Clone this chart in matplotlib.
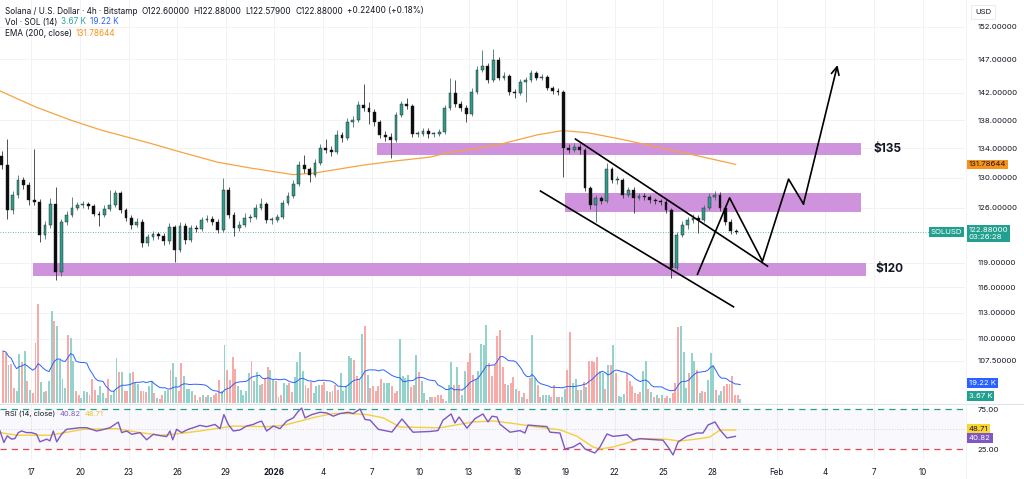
import numpy as np
import pandas as pd
import matplotlib
matplotlib.use("Agg")
import matplotlib.pyplot as plt
from matplotlib.ticker import FixedLocator, NullLocator, FixedFormatter

plt.rcParams['font.family'] = ['Inter', 'DejaVu Sans']

# ---- data (days counted from 1 Jan 2026 00:00) ----
# 8h candles, first one opens Dec 14
first_open = 133.0
closes = [131.7, 125.7, 127.7, 129.7, 129.0, 127.0, 126.8, 122.5, 123.8, 126.5,
          117.9, 124.2, 125.1, 126.0, 126.4, 126.5, 126.2, 125.2, 125.1, 125.9,
          126.4, 127.9, 125.7, 124.7, 123.8, 124.2, 121.5, 122.2, 122.6, 122.4,
          121.7, 123.5, 120.6, 123.7, 121.9, 123.4, 123.3, 124.4, 124.6, 124.2,
          123.1, 128.4, 125.1, 123.4, 123.8, 124.7, 124.8, 126.0, 126.5, 124.4,
          124.4, 124.8, 126.6, 127.6, 129.2, 131.7, 131.1, 130.4, 132.0, 134.1,
          133.8, 133.5, 135.9, 135.5, 137.7, 138.0, 140.2, 139.8, 139.2, 137.7,
          135.9, 135.6, 135.2, 138.7, 140.3, 140.0, 136.0, 136.0, 136.5, 136.0,
          136.0, 136.3, 139.8, 141.9, 140.3, 139.8, 138.9, 142.1, 145.4, 146.0,
          143.9, 146.9, 144.2, 144.5, 142.1, 141.9, 143.6, 143.9, 144.9, 144.2,
          144.3, 142.7, 142.2, 142.1, 134.1, 133.8, 134.2, 133.8, 128.6, 126.4,
          127.3, 126.9, 131.1, 129.7, 129.7, 127.7, 128.4, 127.3, 127.6, 127.4,
          127.0, 126.9, 126.8, 125.7, 118.4, 122.5, 123.8, 124.4, 124.7, 124.4,
          126.0, 127.4, 127.7, 126.0, 124.2, 123.0, 122.88]
highs = [133.6, 135.3, 128.2, 130.3, 130.1, 129.4, 133.9, 127.2, 124.3, 127.3,
         128.8, 124.6, 125.6, 127.4, 126.8, 126.9, 126.8, 126.5, 125.6, 126.3,
         128.4, 128.4, 128.2, 126.0, 125.0, 124.7, 124.5, 122.6, 123.0, 122.9,
         122.7, 124.0, 123.8, 124.1, 124.0, 123.8, 123.8, 124.8, 125.0, 124.9,
         124.5, 130.0, 128.8, 125.4, 124.3, 125.3, 125.2, 126.5, 127.3, 126.8,
         124.8, 125.2, 127.0, 128.1, 129.7, 132.3, 133.1, 131.5, 132.5, 134.6,
         135.3, 134.3, 136.6, 136.3, 138.3, 138.6, 140.8, 143.3, 140.6, 139.6,
         138.0, 136.4, 136.2, 139.1, 140.8, 141.2, 140.3, 136.5, 136.9, 136.8,
         136.3, 136.7, 140.2, 144.2, 143.9, 140.7, 140.2, 142.6, 145.9, 148.4,
         146.4, 148.6, 147.3, 145.0, 144.8, 142.5, 144.0, 144.3, 145.4, 145.2,
         144.7, 144.6, 143.0, 142.6, 142.4, 134.6, 134.7, 134.6, 134.1, 128.9,
         127.7, 127.6, 132.0, 131.5, 130.2, 130.0, 128.8, 128.7, 128.0, 127.9,
         127.7, 127.3, 127.2, 127.1, 126.0, 122.9, 124.3, 124.8, 125.2, 125.1,
         126.4, 127.9, 128.2, 128.1, 126.3, 124.5, 123.3]
lows = [131.2, 124.6, 125.2, 127.3, 128.5, 126.4, 126.3, 121.6, 122.0, 123.4,
        116.9, 117.4, 123.8, 124.8, 125.7, 126.0, 125.8, 124.9, 123.6, 124.8,
        125.6, 126.1, 125.3, 124.3, 123.3, 123.5, 121.0, 121.1, 121.9, 122.0,
        121.2, 121.4, 119.1, 120.3, 121.3, 121.6, 122.9, 123.0, 124.1, 123.8,
        122.7, 122.9, 124.7, 122.4, 123.0, 123.5, 124.2, 124.5, 125.7, 124.0,
        123.9, 124.1, 124.5, 126.3, 127.3, 128.9, 130.6, 129.4, 130.1, 131.7,
        133.3, 133.0, 133.2, 134.9, 135.2, 137.0, 137.7, 139.3, 137.4, 137.2,
        135.5, 135.0, 132.7, 134.9, 138.4, 139.6, 135.6, 135.6, 135.7, 135.4,
        135.6, 135.7, 136.0, 139.5, 139.9, 139.3, 137.7, 138.6, 141.8, 145.0,
        143.4, 143.6, 143.8, 143.8, 141.7, 141.2, 141.6, 140.6, 143.6, 143.8,
        143.9, 142.3, 141.8, 141.7, 130.1, 133.4, 133.5, 133.2, 128.2, 125.9,
        124.2, 126.5, 126.6, 129.3, 129.2, 127.3, 127.4, 125.3, 127.0, 127.0,
        126.6, 126.5, 126.4, 125.3, 117.2, 118.1, 122.2, 123.3, 124.0, 122.8,
        124.1, 125.7, 127.0, 125.6, 123.8, 122.6, 122.58]

# 4h volume, thousand SOL; g = up candle, r = down candle
volumes = [52, 50, 38, 39, 15, 12, 49, 41, 52, 22, 13, 10, 60, 99, 21, 11, 12, 22, 92, 82,
           77, 43, 24, 15, 68, 65, 42, 12, 8, 5, 12, 11, 8, 24, 13, 8, 17, 10, 5, 24,
           8, 12, 45, 31, 31, 12, 12, 30, 31, 20, 19, 12, 12, 11, 17, 22, 10, 5, 4, 8,
           12, 13, 33, 40, 26, 12, 40, 27, 14, 14, 12, 8, 3, 6, 8, 6, 8, 6, 8, 10,
           23, 12, 58, 33, 23, 46, 34, 17, 13, 8, 12, 30, 42, 22, 31, 18, 19, 25, 36, 33,
           23, 22, 6, 8, 20, 18, 20, 11, 26, 41, 51, 32, 18, 15, 21, 10, 17, 18, 18, 21,
           12, 11, 12, 18, 13, 30, 12, 17, 47, 45, 43, 27, 23, 69, 77, 28, 15,
           17, 12, 17, 24, 20, 20, 20, 17, 10, 12, 64, 27, 25, 28, 16, 18, 48, 31, 22, 10,
           3, 6, 6, 6, 8, 8, 4, 2, 18, 41, 18, 36, 18, 8, 32, 41, 50, 28, 24, 32,
           59, 58, 78, 40, 27, 38, 67, 73, 36, 19, 18, 20, 26, 14, 12, 6, 10, 4, 25, 68,
           25, 18, 6, 8, 8, 8, 6, 18, 6, 6, 6, 14, 33, 71, 20, 24, 13, 13, 21, 16,
           42, 42, 41, 46, 32, 30, 14, 38, 38, 58, 30, 7, 6, 9, 30, 22, 17, 10, 9, 11,
           32, 42, 14, 11, 6, 8, 5, 8, 5, 7, 5, 10, 20, 76, 77, 51, 15, 30, 50, 42,
           33, 10, 12, 11, 23, 50, 38, 13, 8, 12, 17, 19, 19, 27, 8, 8, 3.67]
vol_dirs = ("rrgrrggrgr" "grrrggrggr" "ggggrggrrg" "ggrrrggggr" "gggrgrrgrg"
            "grrrggrgrr" "ggrggrrggg" "grgrgrggrr" "rggrrrrggg" "ggrgggrrrg"
            "grgrggrrgg" "ggrrrgggrr" "grgrrggggg" "rrrgrgr"
            "rrrrgggrrr" "ggggrrgrgg" "rgrrrrrggg" "rgrggrrrgg" "gggrrrrrrr"
            "grrgrgrrrg" "grrgggrrgr" "ggrrggrgrg" "rrrrggrgrg" "rgggrrrrrr"
            "ggrgrgrgrr" "grrrgggrgg" "rgrrgggrgg" "rrrrrrg")

ema_days = [-16.91, -14.75, -12.59, -10.74, -7.65, -5.80, -3.52, -1.48, 1.17, 2.41, 5.49,
            7.59, 9.63, 10.68, 12.72, 14.14, 16.23, 17.78, 19.32, 21.36, 22.59, 25.86, 28.46]
ema_vals = [142.2, 139.9, 138.0, 136.6, 134.7, 133.5, 132.1, 131.3, 130.4, 130.6, 131.7,
            132.3, 132.8, 133.4, 134.1, 134.7, 135.9, 136.5, 136.2, 135.3, 134.7, 133.1, 131.8]

rsi_days = [-16.94, -16.70, -16.49, -16.22, -16.02, -15.81, -15.60, -15.30, -14.99, -14.68,
            -14.48, -14.06, -13.86, -13.65, -13.44, -13.14, -12.83, -12.01, -11.59, -10.98,
            -10.67, -10.15, -9.85, -9.64, -9.43, -9.12, -8.81, -8.30, -7.89, -7.48,
            -6.96, -6.65, -6.45, -6.28, -6.04, -5.73, -5.32, -5.01, -4.60, -4.19,
            -3.67, -3.36, -3.12, -2.85, -2.54, -2.13, -1.72, -1.31, -1.00, -0.79,
            -0.48, -0.07, 0.34, 0.75, 1.16, 1.47, 1.68, 1.88, 2.30, 2.81,
            3.22, 3.63, 4.04, 4.56, 4.86, 5.28, 5.59, 5.90, 6.41, 7.25,
            7.87, 8.18, 8.55, 9.60, 10.09, 10.40, 10.90, 11.14, 11.39, 11.88,
            12.38, 12.87, 13.18, 13.43, 13.73, 13.92, 14.54, 15.15, 15.46, 15.65,
            16.20, 16.82, 17.01, 17.62, 17.93, 18.43, 18.86, 19.17, 19.78, 20.09,
            20.52, 20.89, 21.33, 21.76, 22.13, 22.56, 23.18, 23.98, 24.29, 24.60,
            24.91, 25.46, 26.08, 26.45, 26.76, 27.19, 27.50, 27.93, 28.24, 28.45]
rsi_vals = [47.5, 33.2, 41.4, 37.3, 38.1, 45.5, 47.5, 45.5, 45.5, 43.4,
            34.0, 37.3, 35.2, 47.5, 34.0, 43.4, 49.6, 51.6, 51.6, 47.5,
            48.8, 51.6, 55.7, 58.6, 45.5, 47.5, 43.4, 45.5, 36.5, 43.4,
            41.4, 40.6, 47.5, 36.5, 49.6, 45.5, 49.6, 51.6, 54.5, 52.9,
            55.7, 50.4, 68.0, 55.7, 47.5, 48.8, 53.7, 55.7, 58.6, 59.8,
            47.5, 53.7, 50.4, 59.8, 63.9, 72.1, 76.2, 63.9, 68.0, 70.9,
            70.1, 66.0, 69.3, 70.9, 69.3, 75.0, 61.9, 61.1, 49.6, 46.2,
            62.5, 55.0, 46.0, 46.9, 48.0, 61.0, 68.8, 57.5, 65.0, 51.0,
            63.0, 68.8, 58.8, 66.0, 65.0, 56.0, 46.0, 48.0, 45.0, 55.0,
            54.0, 53.0, 46.0, 45.0, 25.0, 27.5, 32.5, 25.0, 20.0, 27.5,
            43.8, 40.8, 41.7, 42.9, 36.0, 38.0, 37.0, 36.0, 27.5, 17.5,
            33.8, 41.0, 45.0, 45.0, 55.0, 58.8, 48.8, 38.8, 40.0, 40.82]
rsi_ma_days = [-16.94, -15.91, -13.86, -11.80, -9.74, -8.30, -7.07, -6.25, -4.60, -2.54,
               -0.48, 0.54, 1.57, 2.60, 3.63, 4.66, 5.69, 6.72, 7.75, 10.22,
               12.25, 13.49, 14.72, 16.20, 17.62, 18.67, 19.66, 20.09, 20.89, 21.76,
               22.56, 23.36, 24.23, 25.03, 26.27, 26.88, 27.50, 28.45]
rsi_ma_vals = [45.5, 42.2, 42.2, 49.6, 50.4, 45.5, 42.2, 43.4, 47.5, 53.7,
               52.9, 54.5, 59.8, 65.2, 69.3, 69.3, 68.0, 63.9, 52.5, 51.5,
               58.8, 60.0, 57.0, 52.5, 49.0, 41.0, 27.5, 25.0, 27.5, 32.5,
               37.5, 38.0, 37.0, 35.0, 38.0, 40.0, 48.8, 48.71]

# support / resistance zones: low, high, start day, end day
zone_lows = [117.4, 125.5, 133.1]
zone_highs = [119.0, 128.0, 134.7]
zone_starts = [-14.88, 17.96, 6.30]
zone_ends = [36.54, 36.23, 36.23]

# hand-drawn lines
upper_days, upper_prices = [18.58, 30.43], [135.3, 118.6]
lower_days, lower_prices = [16.42, 28.33], [128.2, 113.7]
path_days = [26.11, 28.09, 30.12, 31.73, 32.65]
path_prices = [117.6, 127.3, 119.2, 129.8, 126.5]
target_day, target_price = 34.75, 146.1

last_price = 122.88
ema_last = 131.78644
vol_last, vol_ma_last = 3.67, 19.22
rsi_last, rsi_ma_last = 40.82, 48.71

price_ticks = [107.5, 110, 113, 116, 119, 126, 130, 134, 138, 142, 147, 152]
date_ticks = [-15, -12, -9, -6, -3, 0, 3, 6, 9, 12, 15, 18, 21, 24, 27, 31, 34, 37, 40]
date_labels = ['17', '20', '23', '26', '29', '2026', '4', '7', '10', '13', '16', '19',
               '22', '25', '28', 'Feb', '4', '7', '10']

# ---- figure ----
W, H = 1024, 479
fig = plt.figure(figsize=(W / 100, H / 100), dpi=100)
fig.patch.set_facecolor('white')
plot_w = 965 / W
ax = fig.add_axes([0, 1 - 403 / H, plot_w, 403 / H])
axv = fig.add_axes([0, 1 - 403 / H, plot_w, 403 / H])
axr = fig.add_axes([0, 1 - 460 / H, plot_w, 57 / H])
axv.patch.set_alpha(0)

xlim = (-16.94, 42.62)
txt = '#131722'
up_c, dn_c = '#2f9c8c', '#0d0d0d'
for a in (ax, axv, axr):
    a.set_xlim(*xlim)
    for s in a.spines.values():
        s.set_visible(False)

# price pane
ax.set_yscale('log')
ax.set_ylim(102.9, 156.3)
ax.yaxis.set_major_locator(FixedLocator(price_ticks))
ax.yaxis.set_major_formatter(FixedFormatter([f'{v:.5f}' for v in price_ticks]))
ax.yaxis.set_minor_locator(NullLocator())
ax.yaxis.tick_right()
ax.tick_params(axis='y', length=0, pad=9, labelsize=5.6, colors=txt)
ax.set_xticks(date_ticks)
ax.tick_params(axis='x', length=0, labelbottom=False)
ax.grid(True, color='#f0f2f6', lw=0.7)
ax.set_axisbelow(True)

for lo, hi, d0, d1 in zip(zone_lows, zone_highs, zone_starts, zone_ends):
    ax.fill_between([d0, d1], lo, hi, color='#cf92dc', lw=0, zorder=1)

ax.plot(ema_days, ema_vals, color='#f7a440', lw=0.9, zorder=2)
ax.axhline(last_price, color='#26a69a', lw=0.6, ls=(0, (1, 2)), zorder=2)

n = len(closes)
opens = np.array([first_open] + closes[:-1])
c = np.array(closes)
days = -17 + np.arange(n) / 3 + 1 / 6
is_up = c >= opens
ax.vlines(days, lows, highs, color=np.where(is_up, '#4a6f69', '#333333'), lw=0.6, zorder=3)
ax.bar(days, np.maximum(np.abs(c - opens), 0.12), bottom=np.minimum(opens, c), width=0.17,
       color=np.where(is_up, up_c, dn_c), edgecolor='#1b1b1b', lw=0.3, zorder=4)

# drawings
ax.plot(upper_days, upper_prices, color='black', lw=1.2, zorder=5)
ax.plot(lower_days, lower_prices, color='black', lw=1.2, zorder=5)
ax.plot(path_days, path_prices, color='black', lw=1.2, zorder=5)
ax.annotate('', xy=(target_day, target_price), xytext=(path_days[-1], path_prices[-1]),
            arrowprops=dict(arrowstyle='->', color='black', lw=1.2, mutation_scale=14,
                            shrinkA=0, shrinkB=0), zorder=5)
ax.text(37.0, 133.9, '$135', fontsize=8.5, fontweight='bold', color=txt, va='center')
ax.text(37.1, 118.2, '$120', fontsize=8.5, fontweight='bold', color=txt, va='center')

# volume overlay
vol = np.array(volumes, dtype=float)
assert len(vol) == len(vol_dirs)
vdays = -17 + (np.arange(len(vol)) + 1) / 6 + 1 / 12
vcol = ['#93d3cb' if d == 'g' else '#f7aaa8' for d in vol_dirs]
axv.bar(vdays, vol, width=0.12, color=vcol, lw=0, zorder=2)
vol_ma = pd.Series(vol).rolling(14, min_periods=1).mean()
axv.plot(vdays, vol_ma, color='#2962ff', lw=0.7, zorder=3)
axv.set_ylim(0, 403)
axv.set_yticks([])
axv.set_xticks([])

# RSI pane
axr.set_ylim(11.25, 82.5)
axr.axhspan(25, 75, color='#7e57c2', alpha=0.04, lw=0)
axr.axhline(75, color='#2a9d8f', lw=0.9, ls=(0, (5, 4)))
axr.axhline(25, color='#e04858', lw=0.9, ls=(0, (5, 4)))
axr.axhline(50, color='#b0b0b8', lw=0.5, ls=(0, (1, 3)))
axr.plot(rsi_ma_days, rsi_ma_vals, color='#f5cf3b', lw=1.0)
axr.plot(rsi_days, rsi_vals, color='#7e57c2', lw=1.0)
axr.yaxis.tick_right()
axr.set_yticks([25, 75])
axr.set_yticklabels(['25.00', '75.00'])
axr.tick_params(axis='y', length=0, pad=9, labelsize=5.6, colors=txt)
axr.set_xticks(date_ticks)
axr.set_xticklabels(date_labels)
axr.tick_params(axis='x', length=0, pad=6, labelsize=5.8, colors=txt)
for lab in axr.get_xticklabels():
    if lab.get_text() == '2026':
        lab.set_fontweight('bold')
axr.grid(True, axis='x', color='#f0f2f6', lw=0.7)
axr.set_axisbelow(True)

# pane separator and axis border
fig.add_artist(plt.Line2D([0, 1], [1 - 403.5 / H] * 2, color='#e0e3eb', lw=0.8))
fig.add_artist(plt.Line2D([plot_w + 0.5 / W] * 2, [0, 1], color='#eef0f4', lw=0.6))


def label_box(a, y, s, bg, fg, x=1.004, ha='left', va='center'):
    a.text(x, y, s, transform=a.get_yaxis_transform(), fontsize=5.6, color=fg,
           ha=ha, va=va, clip_on=False, zorder=20, linespacing=1.25,
           bbox=dict(boxstyle='square,pad=0.25', fc=bg, ec='none'))


label_box(ax, ema_last, f'{ema_last:.5f}', '#f7931a', '#1a1a1a')
label_box(ax, 123.55, f'{last_price:.5f}\n03:26:28', '#22a08f', 'white', va='top')
label_box(ax, last_price, 'SOLUSD', '#22a08f', 'white', x=0.997, ha='right')
label_box(axv, vol_ma_last + 0.5, f'{vol_ma_last:.2f} K', '#2962ff', 'white')
label_box(axv, 7.0, f'{vol_last:.2f} K', '#22a08f', 'white')
label_box(axr, rsi_ma_last + 1.5, f'{rsi_ma_last:.2f}', '#f9d635', '#1a1a1a')
label_box(axr, rsi_last - 2.0, f'{rsi_last:.2f}', '#7e57c2', 'white')

fig.text(975 / W, 1 - 12 / H, 'USD', fontsize=5.6, color=txt, va='center',
         bbox=dict(boxstyle='square,pad=0.5', fc='white', ec='#e6e8ee', lw=0.6))

# legend rows
renderer = fig.canvas.get_renderer()


def text_row(x_px, y_px, parts, size=5.9):
    x = x_px
    for s, col in parts:
        t = fig.text(x / W, 1 - y_px / H, s, fontsize=size, color=col, va='center', ha='left')
        x += t.get_window_extent(renderer=renderer).width + 4


text_row(5, 11, [('Solana / U.S. Dollar · 4h · Bitstamp', txt), ('O122.60000', txt),
                 ('H122.88000', txt), ('L122.57900', txt), ('C122.88000', txt),
                 ('+0.22400 (+0.18%)', txt)])
text_row(5, 22, [('Vol · SOL (14)', txt), (f'{vol_last:.2f} K', '#26a69a'),
                 (f'{vol_ma_last:.2f} K', '#2962ff')])
text_row(5, 33, [('EMA (200, close)', txt), (f'{ema_last:.5f}', '#f7931a')])
text_row(5, 414, [('RSI (14, close)', txt), (f'{rsi_last:.2f}', '#7e57c2'),
                  (f'{rsi_ma_last:.2f}', '#e8c22a')], size=5.4)

fig.savefig('out.png', dpi=100, facecolor='white')
